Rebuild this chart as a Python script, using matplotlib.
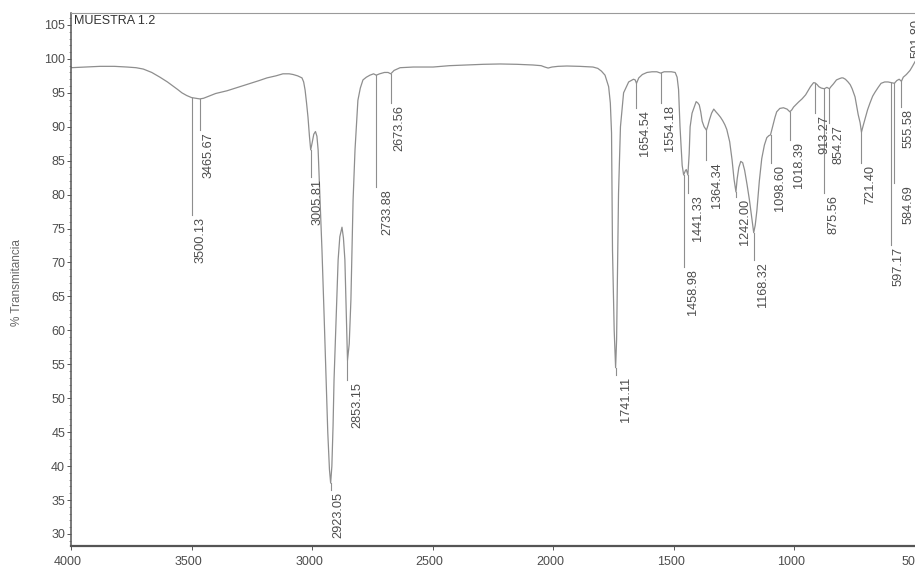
import numpy as np
import matplotlib
matplotlib.use("Agg")
import matplotlib.pyplot as plt
from matplotlib.transforms import ScaledTranslation, offset_copy
from matplotlib.ticker import MultipleLocator

plt.rcParams["font.family"] = ["Liberation Sans", "DejaVu Sans"]

# IR spectrum, wavenumber (cm-1) and % transmittance
wavenumber = [
    4000, 3940, 3880, 3820, 3768, 3730, 3700, 3665, 3631, 3600,
    3577, 3558, 3540, 3520, 3500.13, 3482, 3465.67, 3450, 3436, 3400,
    3353, 3300, 3257, 3220, 3187, 3150, 3121, 3095, 3079, 3060,
    3042, 3035, 3029, 3023, 3017, 3011, 3005.81, 3000, 2993, 2986,
    2980, 2975, 2968, 2959, 2950, 2942, 2935, 2928, 2923.05, 2918,
    2913, 2909, 2900, 2892, 2885, 2876, 2870, 2864, 2858, 2853.15,
    2846, 2839, 2830, 2822, 2810, 2800, 2789, 2775, 2760, 2745,
    2733.88, 2720, 2700, 2685, 2673.56, 2660, 2635, 2580, 2498, 2430,
    2357, 2290, 2220, 2150, 2084, 2050, 2035, 2021, 2005, 1980,
    1943, 1890, 1835, 1815, 1800, 1785, 1770, 1763, 1758, 1754,
    1747, 1741.11, 1737, 1733, 1729, 1721, 1708, 1687, 1667, 1660,
    1654.54, 1645, 1630, 1611, 1590, 1570, 1554.18, 1540, 1510, 1494,
    1486, 1480, 1474, 1465, 1458.98, 1452, 1448, 1441.33, 1436, 1432,
    1424, 1415, 1407, 1400, 1394, 1388, 1382, 1374, 1364.34, 1358,
    1352, 1343, 1334, 1325, 1315, 1306, 1297, 1288, 1280, 1268,
    1258, 1250, 1242.00, 1237, 1230, 1222, 1214, 1206, 1196, 1186,
    1176, 1168.32, 1162, 1155, 1145, 1135, 1124, 1114, 1105, 1098.60,
    1090, 1080, 1073, 1060, 1045, 1030, 1018.39, 1010, 1003, 992,
    982, 968, 953, 943, 933, 920, 913.27, 905, 898, 888,
    875.56, 865, 854.27, 848, 838, 825, 812, 804, 798, 788,
    777, 768, 760, 748, 735, 727, 721.40, 714, 706, 696,
    686, 675, 665, 652, 640, 625, 611, 597.17, 590, 584.69,
    575, 565, 555.58, 548, 535, 520, 510, 499,
]
transmittance = [
    98.7, 98.8, 98.9, 98.9, 98.8, 98.7, 98.5, 98.0, 97.3, 96.6,
    96.0, 95.5, 95.0, 94.6, 94.3, 94.2, 94.1, 94.2, 94.4, 94.9,
    95.3, 95.9, 96.4, 96.8, 97.2, 97.5, 97.8, 97.8, 97.7, 97.5,
    97.2, 96.6, 95.4, 93.5, 91.4, 88.6, 86.6, 87.6, 88.9, 89.3,
    88.6, 86.6, 80.0, 71.8, 62.0, 52.7, 45.0, 39.5, 37.5, 40.0,
    46.0, 52.7, 62.0, 70.4, 73.8, 75.2, 73.6, 70.4, 62.0, 55.6,
    58.0, 64.5, 79.2, 86.6, 93.9, 95.7, 96.9, 97.3, 97.6, 97.8,
    97.6, 97.8, 98.0, 98.0, 97.8, 98.3, 98.7, 98.8, 98.8, 99.0,
    99.1, 99.2, 99.25, 99.2, 99.1, 99.0, 98.8, 98.65, 98.8, 98.9,
    98.95, 98.9, 98.8, 98.6, 98.2, 97.6, 95.9, 93.5, 89.1, 71.8,
    60.0, 54.5, 58.6, 70.0, 80.2, 90.0, 95.0, 96.6, 97.0, 96.9,
    96.4, 97.2, 97.7, 98.0, 98.1, 98.1, 97.9, 98.1, 98.1, 98.0,
    97.3, 95.5, 90.0, 84.3, 82.9, 83.5, 83.7, 82.9, 86.0, 90.0,
    92.0, 92.9, 93.7, 93.5, 93.2, 92.2, 90.8, 90.0, 89.5, 90.2,
    91.0, 92.0, 92.6, 92.2, 91.8, 91.4, 90.9, 90.3, 89.6, 87.8,
    85.1, 82.3, 80.4, 82.3, 84.0, 84.9, 84.7, 83.6, 81.5, 79.2,
    76.5, 74.4, 75.5, 77.7, 82.0, 85.3, 87.3, 88.4, 88.7, 88.8,
    90.0, 91.4, 92.2, 92.7, 92.8, 92.6, 92.2, 92.5, 92.9, 93.3,
    93.65, 94.1, 94.7, 95.3, 95.9, 96.5, 96.45, 96.2, 95.9, 95.7,
    95.6, 95.8, 95.6, 95.9, 96.3, 96.9, 97.1, 97.2, 97.2, 97.0,
    96.6, 96.2, 95.6, 94.4, 91.8, 90.6, 89.2, 90.2, 91.2, 92.5,
    93.5, 94.5, 95.1, 95.8, 96.4, 96.6, 96.6, 96.5, 96.45, 96.4,
    96.8, 97.0, 96.7, 97.3, 97.7, 98.3, 98.9, 99.6,
]
assert len(wavenumber) == len(transmittance)

# picked peaks (cm-1)
peak_wn = [3500.13, 3465.67, 3005.81, 2923.05, 2853.15, 2733.88, 2673.56,
           1741.11, 1654.54, 1554.18, 1458.98, 1441.33, 1364.34, 1242.00,
           1168.32, 1098.60, 1018.39, 913.27, 875.56, 854.27, 721.40,
           597.17, 584.69, 555.58]

# layout of the peak annotations: where each leader stops (in % T)
# and the sideways nudge of its text (pixels)
leader_end = [77.0, 89.5, 82.6, 36.5, 52.7, 81.1, 93.5,
              53.4, 92.8, 93.5, 69.3, 80.2, 85.1, 79.7,
              70.4, 84.7, 88.05, 92.0, 80.2, 90.6, 84.7,
              72.6, 81.7, 92.9]
text_dx = [3, 3, 1, 2, 4, 5, 3,
           4, 3, 3, 3, 4, 5, 3,
           3, 3, 3, 3, 3, 3, 3,
           1.5, 8, 1]

x_ticks = [4000, 3500, 3000, 2500, 2000, 1500, 1000, 500]
y_ticks = list(range(30, 106, 5))

line_col = "#8e8e8e"
text_col = "#4d4d4d"

fig = plt.figure(figsize=(9.15, 5.69), dpi=100)
ax = fig.add_axes([71 / 915, 23 / 569, 844 / 915, 533 / 569])

ax.plot(wavenumber, transmittance, color=line_col, lw=0.9)

wn_arr = np.array(wavenumber)[::-1]
t_arr = np.array(transmittance)[::-1]
for w, end, dx in zip(peak_wn, leader_end, text_dx):
    t0 = np.interp(w, wn_arr, t_arr)
    ax.plot([w, w], [t0, end], color=line_col, lw=0.8)
    tr = offset_copy(ax.transData, fig=fig, x=dx, y=-2, units="dots")
    ax.text(w, end, f"{w:.2f}", rotation=90, ha="left", va="top",
            fontsize=9.2, color=text_col, transform=tr)

# edge label at the low-wavenumber end
tr = offset_copy(ax.transData, fig=fig, x=-4, y=0, units="dots")
ax.text(501.80, 105.9, "501.80", rotation=90, ha="left", va="top",
        fontsize=9.2, color=text_col, transform=tr, clip_on=False)

ax.set_xlim(4000, 499.3)
ax.set_ylim(28.23, 106.76)
ax.set_xticks(x_ticks)
ax.set_yticks(y_ticks)
ax.yaxis.set_minor_locator(MultipleLocator(1))

ax.tick_params(axis="both", which="major", labelsize=9, colors="#555555",
               labelcolor=text_col, length=3, width=0.7)
ax.tick_params(axis="y", which="major", pad=1.2)
ax.tick_params(axis="y", which="minor", length=1.6, width=0.5,
               colors="#777777")
ax.tick_params(axis="x", which="major", pad=4)

shift = ScaledTranslation(-3 / 100, 0, fig.dpi_scale_trans)
for lab in ax.get_xticklabels():
    lab.set_transform(lab.get_transform() + shift)

for side in ("left", "bottom"):
    ax.spines[side].set_color("#555555")
ax.spines["left"].set_linewidth(1.1)
ax.spines["bottom"].set_linewidth(1.6)
ax.spines["top"].set_color("#9a9a9a")
ax.spines["top"].set_linewidth(0.8)
ax.spines["right"].set_visible(False)

fig.text(74 / 915, 1 - 21 / 569, "MUESTRA 1.2", ha="left", va="center",
         fontsize=9, color="#333333")
fig.text(17 / 915, 1 - 283 / 569, "% Transmitancia", rotation=90,
         ha="center", va="center", fontsize=8.5, color="#666666")

fig.savefig("out.png", dpi=100)
